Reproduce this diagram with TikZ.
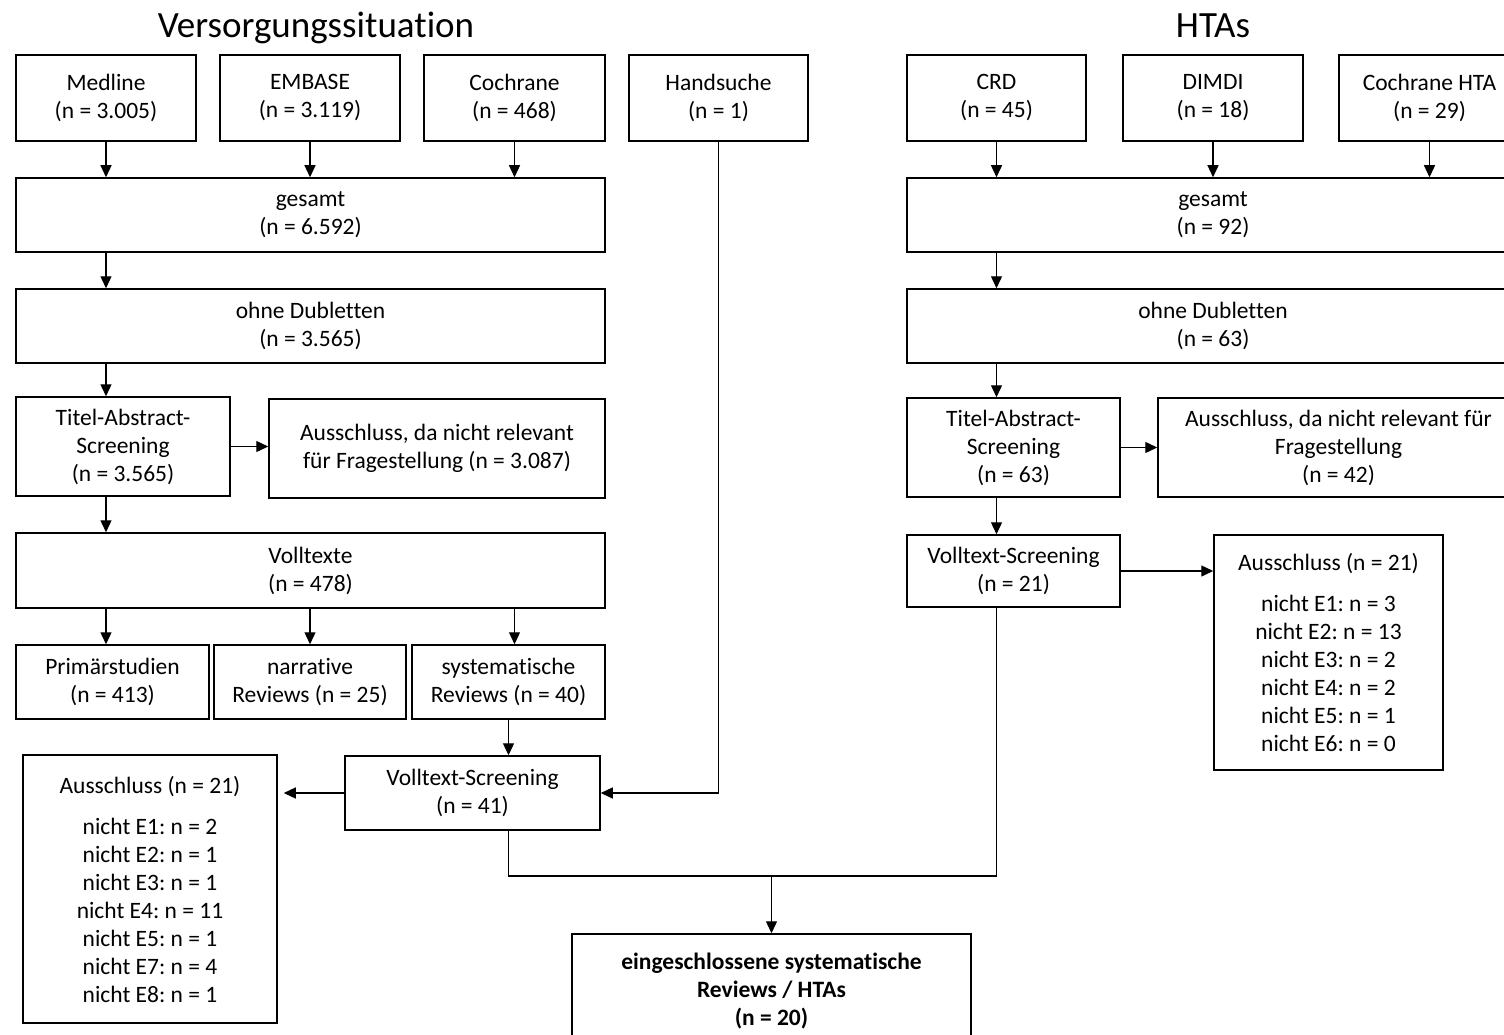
\documentclass[tikz,border=0pt]{standalone}
\usepackage{fontspec}
\setmainfont{Carlito}[Ligatures={NoCommon}]
\usetikzlibrary{arrows.meta}
\frenchspacing
\tikzset{
  box/.style={draw=black, line width=1.5pt, inner sep=0pt, align=center,
    font=\fontsize{23.5pt}{28pt}\selectfont\frenchspacing},
  ttl/.style={inner sep=0pt, anchor=base, font=\fontsize{37pt}{44pt}\selectfont},
  arr/.style={draw=black, line width=1.3pt, -{Triangle[length=12pt,width=11pt]}},
  ln/.style={draw=black, line width=1.3pt}
}
\newcommand\bx[6]{\node[box,minimum width={(#3-#2)*1pt},minimum height={(#5-#4)*1pt}] (#1) at ({(#2+#3)/2},{-(#4+#5)/2}) {#6};}
\begin{document}
\begin{tikzpicture}[x=1pt,y=1pt]
\fill[white] (0,0) rectangle (1504,-1035);
\useasboundingbox (0,0) rectangle (1504,-1035);
\clip (0,0) rectangle (1504,-1035);
% titles
\node[ttl] (tL) at (316,-38) {Versorgungssituation};
\node[ttl] (tR) at (1213,-38) {HTAs};
% left column
\bx{med}{16}{196}{55}{141}{Medline\\(n = 3.005)}
\bx{emb}{220}{400}{55}{141}{EMBASE\\(n = 3.119)}
\bx{coc}{424}{605}{55}{141}{Cochrane\\(n = 468)}
\bx{hand}{629}{808}{55}{141}{Handsuche\\(n = 1)}
\bx{gesL}{16}{605}{178}{252}{gesamt\\(n = 6.592)}
\bx{ohneL}{16}{605}{289}{363}{ohne Dubletten\\(n = 3.565)}
\bx{titL}{16}{230}{397}{496}{Titel-Abstract-\\Screening\\(n = 3.565)}
\bx{ausTL}{269}{605}{399}{498}{Ausschluss, da nicht relevant\\für Fragestellung (n = 3.087)}
\bx{vollL}{16}{605}{533}{608}{Volltexte\\(n = 478)}
\bx{prim}{16}{209}{645}{719}{Primärstudien\\(n = 413)}
\bx{narr}{214}{406}{645}{719}{narrative\\Reviews (n = 25)}
\bx{sysR}{412}{605}{645}{719}{systematische\\Reviews (n = 40)}
\bx{vsL}{345}{600}{756}{830}{Volltext-Screening\\(n = 41)}
\bx{ausL}{23}{277}{755}{1023}{Ausschluss (n = 21)\\[13pt]nicht E1: n = 2\\nicht E2: n = 1\\nicht E3: n = 1\\nicht E4: n = 11\\nicht E5: n = 1\\nicht E7: n = 4\\nicht E8: n = 1}
\bx{final}{572}{971}{934}{1048}{\textbf{eingeschlossene systematische}\\\textbf{Reviews / HTAs}\\\textbf{(n = 20)}}
% right column
\bx{crd}{907}{1086}{55}{141}{CRD\\(n = 45)}
\bx{dimdi}{1123}{1303}{55}{141}{DIMDI\\(n = 18)}
\bx{cochta}{1339}{1520}{55}{141}{Cochrane HTA\\(n = 29)}
\bx{gesR}{907}{1519}{178}{252}{gesamt\\(n = 92)}
\bx{ohneR}{907}{1519}{289}{363}{ohne Dubletten\\(n = 63)}
\bx{titR}{907}{1120}{398}{497}{Titel-Abstract-\\Screening\\(n = 63)}
\bx{ausTR}{1158}{1519}{398}{497}{Ausschluss, da nicht relevant für\\Fragestellung\\(n = 42)}
\bx{vsR}{907}{1120}{535}{607}{Volltext-Screening\\(n = 21)}
\bx{ausR}{1214}{1443}{535}{770}{Ausschluss (n = 21)\\[13pt]nicht E1: n = 3\\nicht E2: n = 13\\nicht E3: n = 2\\nicht E4: n = 2\\nicht E5: n = 1\\nicht E6: n = 0}
% left connectors
\draw[arr] (med.south) -- (med.south |- gesL.north);
\draw[arr] (emb.south) -- (emb.south |- gesL.north);
\draw[arr] (coc.south) -- (coc.south |- gesL.north);
\draw[arr] (med.south |- gesL.south) -- (med.south |- ohneL.north);
\draw[arr] (med.south |- ohneL.south) -- (med.south |- titL.north);
\draw[arr] (titL.east) -- (titL.east -| ausTL.west);
\draw[arr] (med.south |- titL.south) -- (med.south |- vollL.north);
\draw[arr] (med.south |- vollL.south) -- (prim.north -| med.south);
\draw[arr] (emb.south |- vollL.south) -- (narr.north -| emb.south);
\draw[arr] (coc.south |- vollL.south) -- (sysR.north -| coc.south);
\draw[arr] (sysR.south) -- (sysR.south |- vsL.north);
\draw[arr] (hand.south) |- (vsL.east);
\draw[arr, shorten >=6pt] (vsL.west) -- (vsL.west -| ausL.east);
% right connectors
\draw[arr] (crd.south) -- (crd.south |- gesR.north);
\draw[arr] (dimdi.south) -- (dimdi.south |- gesR.north);
\draw[arr] (cochta.south) -- (cochta.south |- gesR.north);
\draw[arr] (crd.south |- gesR.south) -- (crd.south |- ohneR.north);
\draw[arr] (crd.south |- ohneR.south) -- (crd.south |- titR.north);
\draw[arr] (titR.east) -- (titR.east -| ausTR.west);
\draw[arr] (crd.south |- titR.south) -- (crd.south |- vsR.north);
\draw[arr] (vsR.east) -- (vsR.east -| ausR.west);
% merge to final
\coordinate (jL) at (sysR.south |- 0,-876);
\coordinate (jR) at (crd.south |- 0,-876);
\coordinate (jM) at (final.north |- 0,-876);
\draw[ln] (sysR.south |- vsL.south) -- (jL) -- (jR) -- (crd.south |- vsR.south);
\draw[arr] (jM) -- (final.north);
\end{tikzpicture}
\end{document}
